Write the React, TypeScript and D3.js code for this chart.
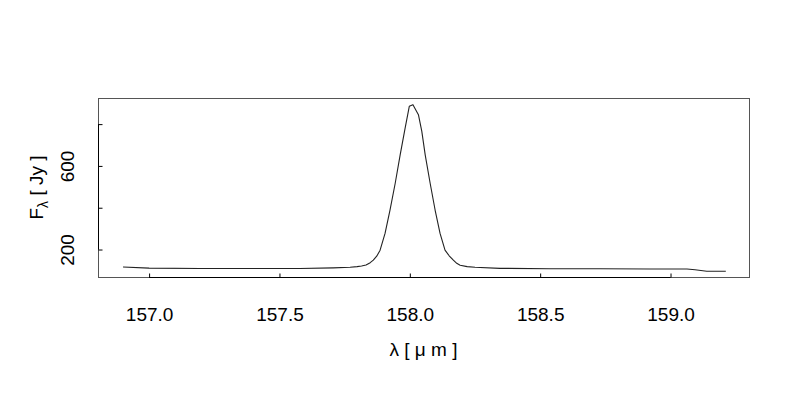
import { useEffect, useRef } from "react";
import * as d3 from "d3";

// wavelength (micron) and flux density (Jy)
const wavelength = [
  156.9, 157.0, 157.196, 157.387, 157.579, 157.706, 157.771, 157.798, 157.815, 157.832,
  157.848, 157.86, 157.873, 157.886, 157.905, 157.924, 157.944, 157.963, 157.982, 157.998, 158.012,
  158.033, 158.046, 158.059, 158.078, 158.097, 158.116, 158.135, 158.151, 158.167, 158.18, 158.193,
  158.22, 158.25, 158.346, 158.538, 158.73, 158.922, 159.063, 159.094, 159.139, 159.212,
];
const flux = [
  116, 111, 109, 109, 109, 112, 115, 118, 121, 126,
  137, 149, 168, 197, 277, 389, 517, 653, 781, 885, 893,
  845, 765, 653, 517, 389, 277, 197, 170, 149, 134, 125,
  118, 115, 110, 108, 108, 107, 107, 103, 96, 96,
];
const xTicks = [157.0, 157.5, 158.0, 158.5, 159.0];
const yTicks = [200, 400, 600, 800];
const yTickLabels = ["200", "", "600", ""];

export default function App() {
  const width = 800;
  const height = 400;
  const marginLeft = 98;
  const marginRight = 51;
  const marginTop = 98;
  const marginBottom = 123;

  const svgRef = useRef(null);

  const x = d3.scaleLinear()
    .domain([156.804, 159.301])
    .range([marginLeft, width - marginRight]);
  const y = d3.scaleLinear()
    .domain([68.5, 925])
    .range([height - marginBottom, marginTop]);

  useEffect(() => {
    const svg = d3.select(svgRef.current);
    svg.selectAll("*").remove();

    const font = "'Liberation Sans', Arial, sans-serif";

    // box
    svg.append("rect")
      .attr("x", marginLeft + 0.5)
      .attr("y", marginTop + 0.5)
      .attr("width", width - marginRight - marginLeft)
      .attr("height", height - marginBottom - marginTop)
      .attr("fill", "none")
      .attr("stroke", "#555")
      .attr("stroke-width", 1);

    const data = wavelength.map((w, i) => [w, flux[i]] as [number, number]);
    const line = d3.line<[number, number]>()
      .x(d => x(d[0]))
      .y(d => y(d[1]));

    svg.append("path")
      .datum(data)
      .attr("d", line)
      .attr("fill", "none")
      .attr("stroke", "#222")
      .attr("stroke-width", 1.1)
      .attr("stroke-linejoin", "round");

    // x axis (ticks pointing inward)
    const gx = svg.append("g")
      .attr("transform", `translate(0,${height - marginBottom + 0.5})`)
      .call(d3.axisBottom(x).tickValues(xTicks).tickSize(-4).tickPadding(12).tickFormat(d3.format(".1f")));
    gx.select(".domain").remove();
    gx.append("line")
      .attr("x1", x(xTicks[0])).attr("x2", x(xTicks[xTicks.length - 1]))
      .attr("stroke", "#000");
    gx.selectAll(".tick line").attr("stroke", "#000");
    gx.selectAll(".tick text")
      .attr("fill", "#000")
      .attr("font-family", font)
      .attr("font-size", 19)
      .attr("dy", 0)
      .attr("y", 44 - 0.5);

    // y axis (ticks pointing inward)
    const gy = svg.append("g")
      .attr("transform", `translate(${marginLeft + 0.5},0)`)
      .call(d3.axisLeft(y).tickValues(yTicks).tickSize(-4).tickFormat((d, i) => yTickLabels[i]));
    gy.select(".domain").remove();
    gy.append("line")
      .attr("y1", y(yTicks[0])).attr("y2", y(yTicks[yTicks.length - 1]))
      .attr("stroke", "#000");
    gy.selectAll(".tick line").attr("stroke", "#000");
    gy.selectAll(".tick text")
      .attr("fill", "#000")
      .attr("font-family", font)
      .attr("font-size", 19)
      .attr("x", null)
      .attr("dy", null)
      .attr("text-anchor", "middle")
      .attr("transform", "translate(-25,0) rotate(-90)");

    // x label
    svg.append("text")
      .attr("x", (marginLeft + width - marginRight) / 2)
      .attr("y", 356)
      .attr("text-anchor", "middle")
      .attr("font-family", font)
      .attr("font-size", 19)
      .attr("fill", "#000")
      .text("λ [ μ m ]");

    // y label
    const yl = svg.append("text")
      .attr("transform", `translate(43,${(marginTop + height - marginBottom) / 2}) rotate(-90)`)
      .attr("text-anchor", "middle")
      .attr("font-family", font)
      .attr("font-size", 19)
      .attr("fill", "#000");
    yl.append("tspan").text("F");
    yl.append("tspan").attr("font-size", 14).attr("dy", 5).text("λ");
    yl.append("tspan").attr("dy", -5).text(" [ Jy ]");
  }, []);

  return (
    <svg
      ref={svgRef}
      width={width}
      height={height}
      style={{ position: "absolute", left: 0, top: 0, background: "#fff" }}
    />
  );
}
